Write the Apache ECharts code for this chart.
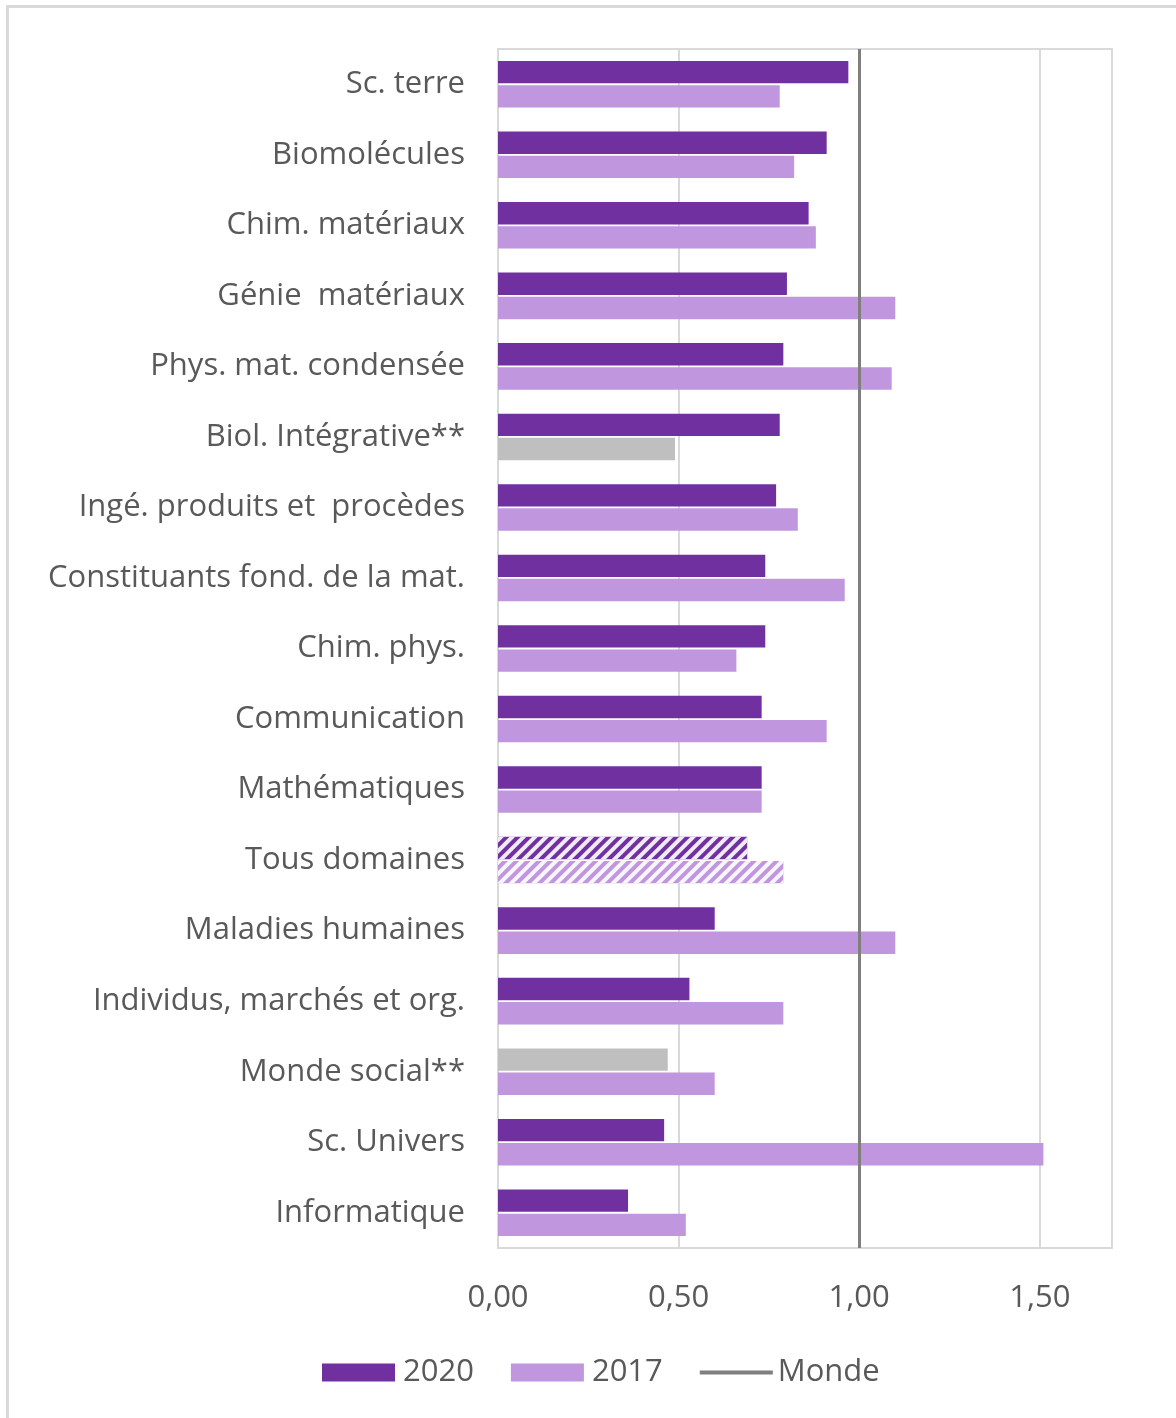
<!DOCTYPE html>
<html>
<head>
<meta charset="utf-8">
<script src="https://cdn.jsdelivr.net/npm/echarts@6/dist/echarts.min.js"></script>
<style>
  html, body { margin: 0; padding: 0; background: #fff; }
  #frame { position: absolute; left: 6px; top: 5px; width: 1200px; height: 1450px; border: 3px solid #d9d9d9; box-sizing: border-box; }
  #chart { position: absolute; left: 0; top: 0; width: 1176px; height: 1418px; }
</style>
</head>
<body>
<div id="frame"></div>
<div id="chart"></div>
<script>
const categories = [
  'Sc. terre', 'Biomolécules', 'Chim. matériaux', 'Génie  matériaux',
  'Phys. mat. condensée', 'Biol. Intégrative**', 'Ingé. produits et  procèdes',
  'Constituants fond. de la mat.', 'Chim. phys.', 'Communication', 'Mathématiques',
  'Tous domaines', 'Maladies humaines', 'Individus, marchés et org.',
  'Monde social**', 'Sc. Univers', 'Informatique'
];
const values2020 = [0.97, 0.91, 0.86, 0.80, 0.79, 0.78, 0.77, 0.74, 0.74, 0.73, 0.73, 0.69, 0.60, 0.53, 0.47, 0.46, 0.36];
const values2017 = [0.78, 0.82, 0.88, 1.10, 1.09, 0.49, 0.83, 0.96, 0.66, 0.91, 0.73, 0.79, 1.10, 0.79, 0.60, 1.51, 0.52];
const monde = 1.0;
const xTicks = [0, 0.5, 1.0, 1.5];

// catégories à faible effectif en gris, "Tous domaines" hachuré
const grey2020 = ['Monde social**'];
const grey2017 = ['Biol. Intégrative**'];
const hatched = 'Tous domaines';

const C2020 = '#7030a0', C2017 = '#c096de', GREY = '#bfbfbf';
const hatch = { symbol: 'rect', symbolSize: 1, dashArrayX: [1, 0], dashArrayY: [4, 4], rotation: -Math.PI / 4, color: 'rgba(255,255,255,0.9)' };

function build(vals, color, greys) {
  return vals.map((v, i) => {
    const c = categories[i];
    if (greys.includes(c)) return { value: v, itemStyle: { color: GREY } };
    if (c === hatched) return { value: v, itemStyle: { color: color, decal: hatch } };
    return v;
  });
}

const chart = echarts.init(document.getElementById('chart'));
const font = '"Open Sans", Lato, sans-serif';
const FS = 31;
chart.setOption({
  animation: false,
  textStyle: { fontFamily: font },
  grid: { left: 498, top: 49, right: 64, bottom: 170, show: true, borderColor: '#d9d9d9', borderWidth: 2 },
  legend: {
    left: 317, top: 1352, itemWidth: 73, itemHeight: 18, itemGap: 37,
    textStyle: { fontSize: FS, color: '#595959', fontFamily: font, padding: [0, 0, 0, 3] },
    data: [
      { name: '2020', icon: 'rect' },
      { name: '2017', icon: 'rect' },
      { name: 'Monde', icon: 'path://M0,0H76V4H0Z', textStyle: { padding: [0, 0, 0, 0] } }
    ]
  },
  xAxis: {
    type: 'value', min: 0, max: 1.7, interval: 0.5,
    axisLine: { show: false }, axisTick: { show: false },
    splitLine: { lineStyle: { color: '#d9d9d9', width: 2 } },
    axisLabel: {
      showMaxLabel: false, margin: 35, fontSize: FS, color: '#595959',
      formatter: v => xTicks.some(t => Math.abs(t - v) < 1e-6) ? v.toFixed(2).replace('.', ',') : ''
    }
  },
  yAxis: {
    type: 'category', inverse: true, data: categories,
    axisTick: { show: false },
    axisLine: { lineStyle: { color: '#d9d9d9', width: 2 } },
    axisLabel: { fontSize: FS, color: '#595959', margin: 33 }
  },
  series: [
    { name: '2020', type: 'bar', data: build(values2020, C2020, grey2020), itemStyle: { color: C2020 },
      barGap: '8%', barCategoryGap: '34%' },
    { name: '2017', type: 'bar', data: build(values2017, C2017, grey2017), itemStyle: { color: C2017 } },
    { name: 'Monde', type: 'line', symbol: 'none', data: [], lineStyle: { color: '#7f7f7f', width: 4 },
      itemStyle: { color: '#7f7f7f' },
      markLine: { symbol: 'none', silent: true, label: { show: false },
        lineStyle: { color: '#7f7f7f', width: 3, type: 'solid' }, data: [{ xAxis: monde }] } }
  ]
});
</script>
</body>
</html>
